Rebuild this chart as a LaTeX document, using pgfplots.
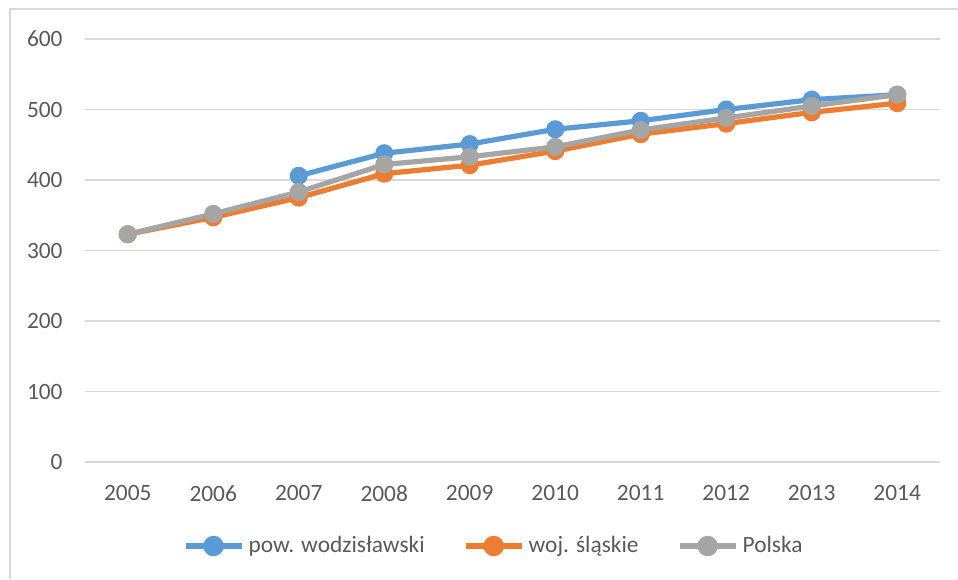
\documentclass[border=0pt]{standalone}
\usepackage{fontspec}
\setmainfont{Carlito}
\usepackage{pgfplots}
\pgfplotsset{compat=1.18}
\definecolor{cblue}{HTML}{5B9BD5}
\definecolor{corange}{HTML}{ED7D31}
\definecolor{cgray}{HTML}{A5A5A5}
\definecolor{cgrid}{HTML}{D9D9D9}
\definecolor{ctext}{HTML}{595959}
\begin{document}
\fontsize{11.7}{14}\selectfont
\begin{tikzpicture}
\useasboundingbox (0,0) rectangle (479pt,-289.5pt);
\draw[cgrid, line width=0.7pt] (479pt,-4.5pt) -- (5pt,-4.5pt) -- (5pt,-289.5pt);
\begin{axis}[
  at={(42.5pt,-231pt)}, anchor=south west,
  scale only axis, width=427.5pt, height=211.5pt,
  xmin=2004.5, xmax=2014.5, ymin=0, ymax=600,
  xtick={2005,...,2014}, ytick={0,100,...,600},
  /pgf/number format/1000 sep={},
  /pgf/number format/assume math mode=true,
  axis line style={draw=none},
  major tick length=0pt,
  ymajorgrids, grid style={cgrid, line width=0.7pt},
  ticklabel style={font=\fontsize{11.7}{14}\selectfont, text=ctext},
  yticklabel style={anchor=east, inner sep=0pt, xshift=-11pt},
  xticklabel style={anchor=north, inner sep=0pt, yshift=-11.5pt},
  clip=false,
  legend columns=3,
  legend style={at={(0.479,-0.1986)}, anchor=center, draw=none, fill=none,
    font=\fontsize{11.7}{14}\selectfont, text=ctext,
    /tikz/every even column/.append style={column sep=17pt},
    inner sep=0pt, nodes={inner sep=2pt}},
  legend image code/.code={%
    \draw[mark repeat=2, mark phase=2, #1, line width=3pt, mark size=3.6pt] plot coordinates {(-3pt,0pt) (11pt,0pt) (25pt,0pt)};},
  every axis plot/.append style={line width=2.6pt, mark=*, mark size=3.2pt, mark options={line width=0pt}},
]
\addplot[cblue, mark options={fill=cblue, draw=cblue}] coordinates {
 (2007,406) (2008,438) (2009,451) (2010,472) (2011,484) (2012,500) (2013,514) (2014,521)};
\addlegendentry{pow. wodzisławski}
\addplot[corange, mark options={fill=corange, draw=corange}] coordinates {
 (2005,323) (2006,347) (2007,375) (2008,409) (2009,421) (2010,441) (2011,465) (2012,480) (2013,496) (2014,509)};
\addlegendentry{woj. śląskie}
\addplot[cgray, mark options={fill=cgray, draw=cgray}] coordinates {
 (2005,323) (2006,352) (2007,383) (2008,422) (2009,433) (2010,447) (2011,471) (2012,488) (2013,505) (2014,521)};
\addlegendentry{Polska}
\end{axis}
\end{tikzpicture}
\end{document}
